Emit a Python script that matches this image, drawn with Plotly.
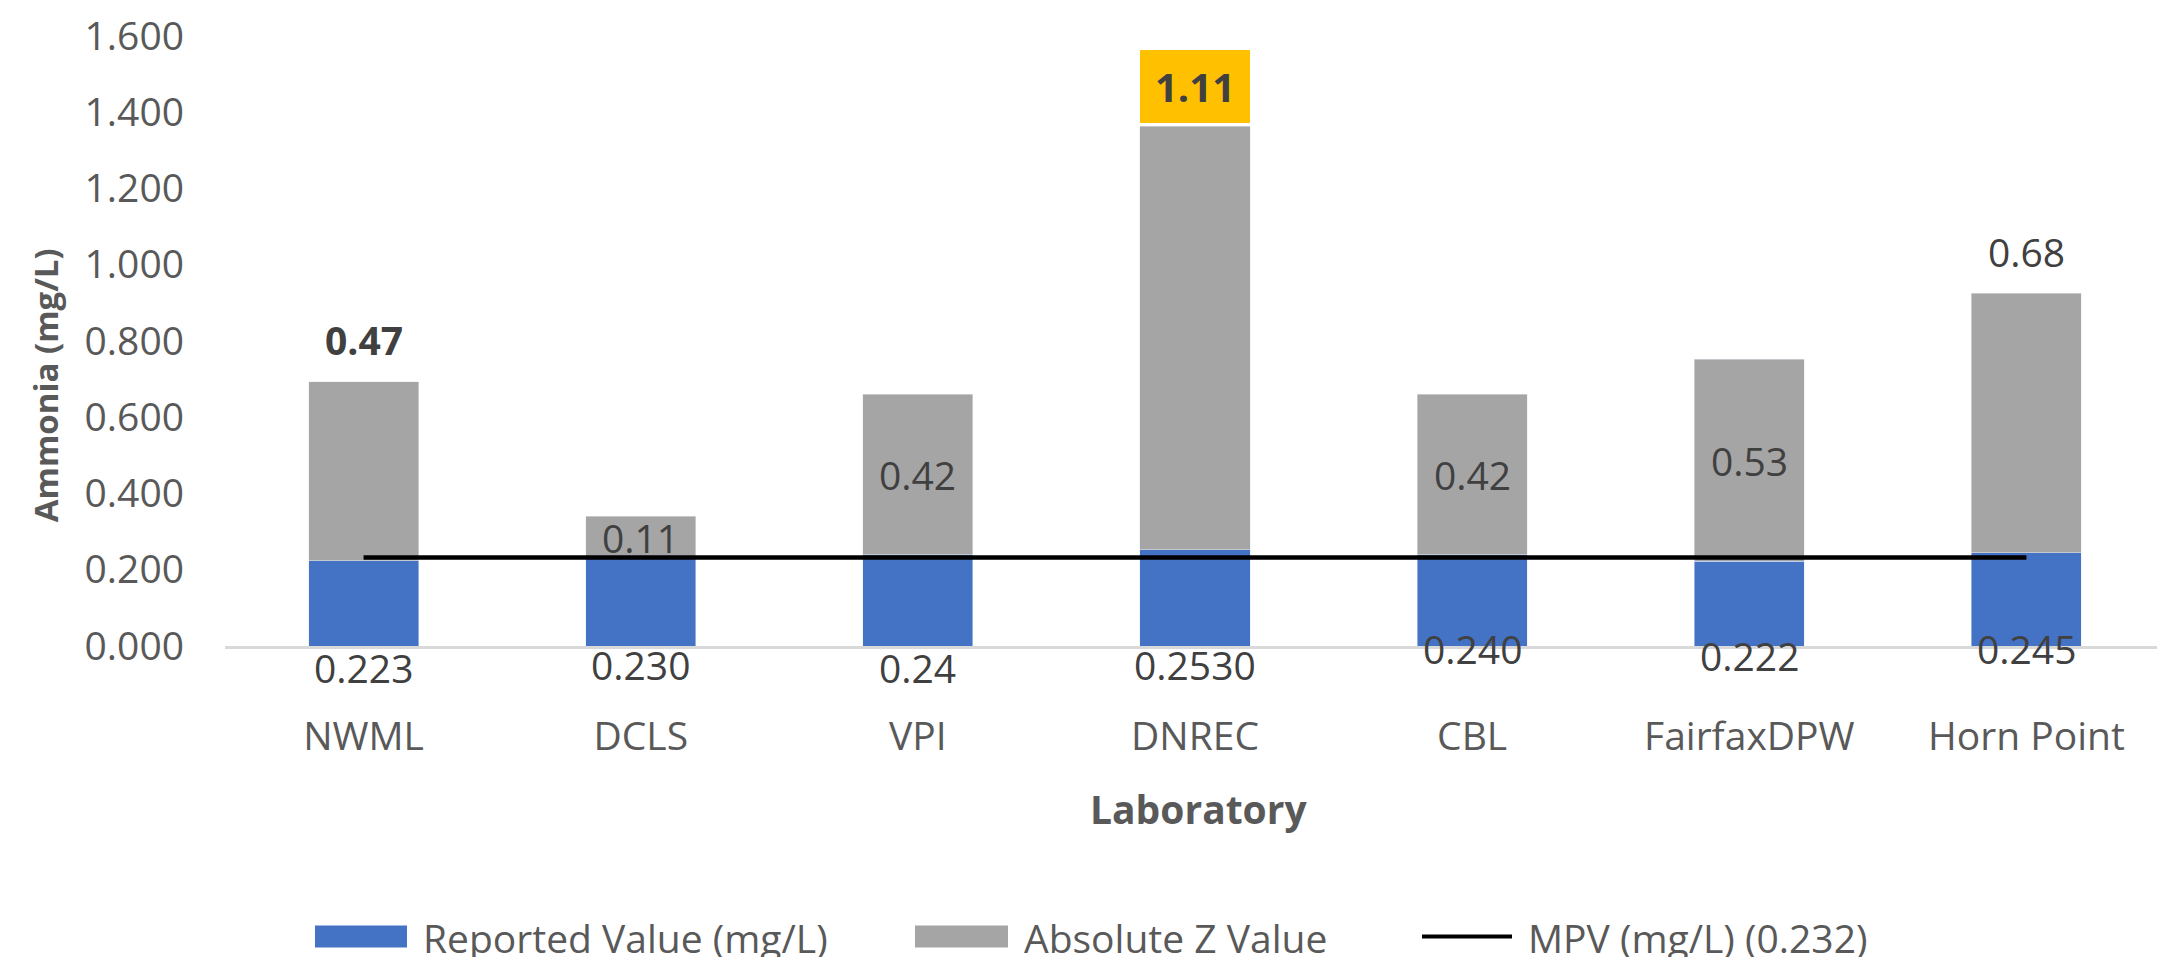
import plotly.graph_objects as go

# ---------------- data ----------------
labs = ["NWML", "DCLS", "VPI", "DNREC", "CBL", "FairfaxDPW", "Horn Point"]
reported = [0.223, 0.230, 0.24, 0.2530, 0.240, 0.222, 0.245]
reported_txt = ["0.223", "0.230", "0.24", "0.2530", "0.240", "0.222", "0.245"]
abs_z = [0.47, 0.11, 0.42, 1.11, 0.42, 0.53, 0.68]
abs_z_txt = ["0.47", "0.11", "0.42", "1.11", "0.42", "0.53", "0.68"]
mpv = 0.232
y_ticks = [0.0, 0.2, 0.4, 0.6, 0.8, 1.0, 1.2, 1.4, 1.6]

# ---------------- style ----------------
OFF = 8  # page body margin
W, H = 2165 - OFF, 964 - OFF
PL, PT, PB, PR = 225, 33, 646, 2165  # plot area in page pixels
ML, MT = PL - OFF, PT - OFF
MR = 0
MB = H - (PB - OFF)
PW, PH = PR - PL, PB - PT
FONT = "Open Sans"
BLUE, GRAY, GOLD = "#4472C4", "#A5A5A5", "#FFC000"
TXT, DTXT = "#595959", "#404040"
FS = 39

# label placement styles per bar
z_mode = ["above", "inside", "inside", "box", "inside", "inside", "above"]
z_bold = [True, False, False, True, False, False, False]
rep_shift = [-21, -18, -21, -18, -2, -9, -2]


def px(x):
    return (x - PL) / PW


def py(y):
    return (PB - y) / PH


fig = go.Figure()
fig.add_bar(x=labs, y=reported, name="Reported Value (mg/L)", marker_color=BLUE,
            showlegend=False)
fig.add_bar(x=labs, y=abs_z, name="Absolute Z Value", marker_color=GRAY,
            showlegend=False)
fig.add_scatter(x=labs, y=[mpv] * len(labs), mode="lines", name="MPV (mg/L) (0.232)",
                line=dict(color="black", width=4.5), showlegend=False)

ann = []
for i, lab in enumerate(labs):
    ann.append(dict(x=lab, y=0, xref="x", yref="y", text=reported_txt[i],
                    showarrow=False, yanchor="middle", yshift=rep_shift[i],
                    font=dict(family=FONT, size=FS, color=DTXT)))
    t = abs_z_txt[i]
    if z_bold[i]:
        t = "<b>" + t + "</b>"
    top = reported[i] + abs_z[i]
    if z_mode[i] == "inside":
        ann.append(dict(x=lab, y=reported[i] + abs_z[i] / 2, xref="x", yref="y",
                        text=t, showarrow=False, yanchor="middle",
                        font=dict(family=FONT, size=FS, color=DTXT)))
    elif z_mode[i] == "above":
        ann.append(dict(x=lab, y=top, xref="x", yref="y", text=t, showarrow=False,
                        yanchor="middle", yshift=42,
                        font=dict(family=FONT, size=FS, color=DTXT)))
    else:
        ann.append(dict(x=lab, y=top, xref="x", yref="y", text=t, showarrow=False,
                        yanchor="bottom", yshift=3, width=110, height=73,
                        bgcolor=GOLD, borderpad=0, borderwidth=0,
                        font=dict(family=FONT, size=40, color=DTXT)))

# axis titles
ann.append(dict(x=px(45), y=py(384), xref="paper", yref="paper",
                text="<b>Ammonia (mg/L)</b>", textangle=-90, showarrow=False,
                xanchor="center", yanchor="middle",
                font=dict(family=FONT, size=33, color=TXT)))
ann.append(dict(x=px(1198), y=py(809), xref="paper", yref="paper",
                text="<b>Laboratory</b>", showarrow=False, xanchor="center",
                yanchor="middle", font=dict(family=FONT, size=FS, color=TXT)))

# custom legend
shapes = []
leg_y = 938
leg_items = [
    ("rect", BLUE, 315, 407, "Reported Value (mg/L)", 421),
    ("rect", GRAY, 915, 1008, "Absolute Z Value", 1022),
    ("line", "black", 1422, 1512, "MPV (mg/L) (0.232)", 1526),
]
for kind, col, x0, x1, name, tx in leg_items:
    if kind == "rect":
        shapes.append(dict(type="rect", xref="paper", yref="paper",
                           x0=px(x0), x1=px(x1), y0=py(leg_y + 11), y1=py(leg_y - 11),
                           fillcolor=col, line=dict(width=0)))
    else:
        shapes.append(dict(type="line", xref="paper", yref="paper",
                           x0=px(x0), x1=px(x1), y0=py(leg_y), y1=py(leg_y),
                           line=dict(color=col, width=4)))
    ann.append(dict(x=px(tx), y=py(leg_y), xref="paper", yref="paper", text=name,
                    showarrow=False, xanchor="left", yanchor="middle", height=40,
                    font=dict(family=FONT, size=FS, color=TXT)))

fig.update_layout(
    width=W, height=H,
    margin=dict(l=ML, r=MR, t=MT, b=MB, pad=0),
    paper_bgcolor="white", plot_bgcolor="white",
    barmode="stack", bargap=0.603,
    showlegend=False,
    font=dict(family=FONT, size=FS, color=TXT),
    annotations=ann, shapes=shapes,
)
fig.update_xaxes(showline=True, linecolor="#D9D9D9", linewidth=3, showgrid=False,
                 ticks="", ticklabelstandoff=54,
                 tickfont=dict(family=FONT, size=FS, color=TXT))
fig.update_yaxes(range=[0, 1.6], tickvals=y_ticks, tickformat=".3f", showgrid=False,
                 zeroline=False, showline=False, ticks="", ticklabelstandoff=40,
                 ticklabeloverflow="allow",
                 tickfont=dict(family=FONT, size=FS, color=TXT))

fig.write_html("out.html")
